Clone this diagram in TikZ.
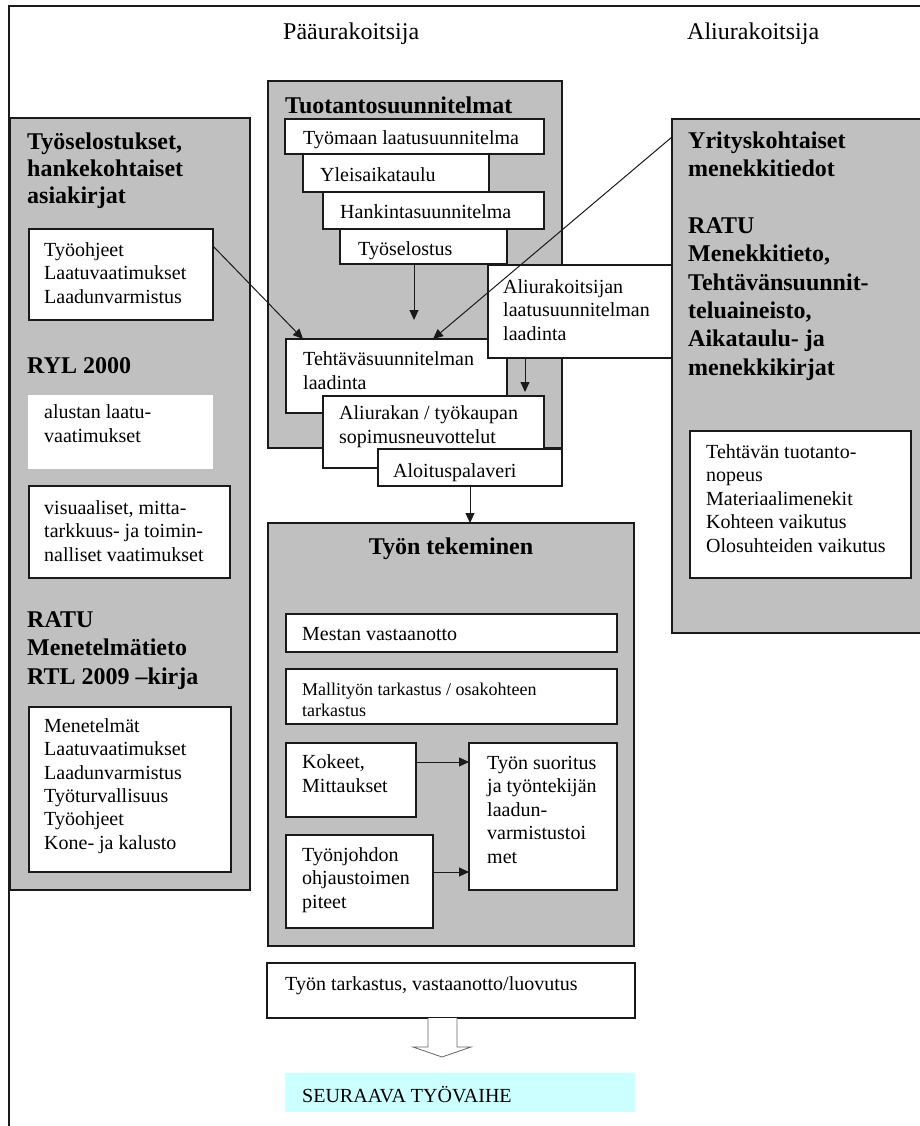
\documentclass[tikz,border=0pt]{standalone}
\usepackage{fontspec}
\setmainfont{Liberation Serif}
\usetikzlibrary{arrows.meta,calc}
\definecolor{panelgray}{HTML}{C0C0C0}
\definecolor{nextcyan}{HTML}{CCFFFF}
\definecolor{inkline}{HTML}{1A1A1A}

% Multi-line text nodes are placed by the baseline of their last line.
\tikzset{
  panel/.style={draw=inkline, fill=panelgray, line width=1.4pt, anchor=north west, inner sep=0pt, outer sep=0pt},
  wbox/.style={draw=inkline, fill=white, line width=1.2pt, anchor=north west, inner sep=0pt, outer sep=0pt},
  plainbox/.style={fill=white, anchor=north west, inner sep=0pt, outer sep=0pt},
  txt/.style={anchor=base west, inner sep=0pt, align=left, font=\fontsize{20}{23.5}\selectfont},
  headtxt/.style={anchor=base west, inner sep=0pt, font=\fontsize{24}{28}\selectfont},
  smalltxt/.style={anchor=base west, inner sep=0pt, align=left, font=\fontsize{18}{21}\selectfont},
  ttl/.style={anchor=base west, inner sep=0pt, align=left, font=\fontsize{24}{28}\selectfont\bfseries},
  flow/.style={draw=inkline, line width=1pt, -{Triangle[length=10pt,width=9pt]}},
}

\begin{document}
\begin{tikzpicture}[x=1pt,y=-1pt]
\useasboundingbox (0,0) rectangle (920,1126);
\fill[white] (0,0) rectangle (920,1126);

% outer frame (only the top and left sides lie on the page)
\draw[inkline, line width=1.2pt] (9,1140) -- (9,6) -- (940,6);

% column headings
\node[headtxt] (hmain) at (283,40) {Pääurakoitsija};
\node[headtxt] (hsub) at (687,40) {Aliurakoitsija};

% ---------- left column: documents ----------
\node[panel, minimum width=240pt, minimum height=772pt] (lpanel) at (10,118) {};
\node[ttl, font=\fontsize{24}{27}\selectfont\bfseries] (ltitle) at (27,204) {Työselostukset,\\hankekohtaiset\\asiakirjat};
\node[wbox, minimum width=184pt, minimum height=91pt] (tyoohj) at (29,229) {};
\node[txt] (tyoohjt) at (44,303) {Työohjeet\\Laatuvaatimukset\\Laadunvarmistus};
\node[ttl] (ryl) at (27,373) {RYL 2000};
\node[plainbox, minimum width=185pt, minimum height=74pt] (alustan) at (28,395) {};
\node[txt] (alustant) at (44,442) {alustan laatu-\\vaatimukset};
\node[wbox, minimum width=201pt, minimum height=92pt] (visu) at (29,486) {};
\node[txt] (visut) at (44,561) {visuaaliset, mitta-\\tarkkuus- ja toimin-\\nalliset vaatimukset};
\node[ttl, font=\fontsize{24}{28.5}\selectfont\bfseries] (ratul) at (27,684) {RATU\\Menetelmätieto\\RTL 2009 –kirja};
\node[wbox, minimum width=202pt, minimum height=165pt] (menet) at (29,707) {};
\node[txt, font=\fontsize{20}{23.3}\selectfont] (menett) at (44,849) {Menetelmät\\Laatuvaatimukset\\Laadunvarmistus\\Työturvallisuus\\Työohjeet\\Kone- ja kalusto};

% ---------- centre column: production planning ----------
\node[panel, minimum width=294pt, minimum height=367pt] (tuot) at (268,81) {};
\node[ttl] (tuott) at (285,114) {Tuotantosuunnitelmat};
\node[wbox, minimum width=259pt, minimum height=35pt] (tyomaan) at (285,119) {};
\node[txt] (tyomaant) at (303,145) {Työmaan laatusuunnitelma};
\node[wbox, minimum width=186pt, minimum height=38pt] (yleis) at (303,154) {};
\node[txt] (yleist) at (320,182) {Yleisaikataulu};
\node[wbox, minimum width=221pt, minimum height=37pt] (hank) at (323,192) {};
\node[txt] (hankt) at (340,218) {Hankintasuunnitelma};
\node[wbox, minimum width=167pt, minimum height=35pt] (tyosel) at (340,229) {};
\node[txt] (tyoselt) at (358,255) {Työselostus};

\node[wbox, minimum width=221pt, minimum height=74pt] (tehtava) at (286,339) {};
\node[txt] (tehtavat) at (303,389) {Tehtäväsuunnitelman\\laadinta};
\node[wbox, minimum width=184pt, minimum height=93pt] (aliur) at (488,265) {};
\node[txt] (aliurt) at (503,340) {Aliurakoitsijan\\laatusuunnitelman\\laadinta};
\node[wbox, minimum width=221pt, minimum height=72pt] (aliurakan) at (323,396) {};
\node[txt] (aliurakant) at (339,443) {Aliurakan / työkaupan\\sopimusneuvottelut};
\node[wbox, minimum width=184pt, minimum height=37pt] (aloitus) at (378,449) {};
\node[txt] (aloitust) at (393,477) {Aloituspalaveri};

% ---------- right column: subcontractor data ----------
\node[panel, minimum width=270pt, minimum height=514pt] (rpanel) at (672,119) {};
\node[ttl, font=\fontsize{24}{28.3}\selectfont\bfseries] (rtitle) at (688,375) {Yrityskohtaiset\\menekkitiedot\\[28.3pt]RATU\\Menekkitieto,\\Tehtävänsuunnit-\\teluaineisto,\\Aikataulu- ja\\menekkikirjat};
\node[wbox, minimum width=221pt, minimum height=147pt] (rinner) at (690,431) {};
\node[txt] (rinnert) at (706,552) {Tehtävän tuotanto-\\nopeus\\Materiaalimenekit\\Kohteen vaikutus\\Olosuhteiden vaikutus};

% ---------- centre column: doing the work ----------
\node[panel, minimum width=366pt, minimum height=423pt] (tekem) at (268,523) {};
\node[ttl, anchor=base] (tekemt) at (451,554) {Työn tekeminen};
\node[wbox, minimum width=331pt, minimum height=38pt] (mestan) at (286,614) {};
\node[txt] (mestant) at (302,640) {Mestan vastaanotto};
\node[wbox, minimum width=331pt, minimum height=55pt] (malli) at (286,669) {};
\node[smalltxt] (mallit) at (302,716) {Mallityön tarkastus / osakohteen\\tarkastus};
\node[wbox, minimum width=130pt, minimum height=74pt] (kokeet) at (286,743) {};
\node[txt] (kokeett) at (302,792) {Kokeet,\\Mittaukset};
\node[wbox, minimum width=148pt, minimum height=147pt] (suoritus) at (469,743) {};
\node[txt] (suoritust) at (487,863) {Työn suoritus\\ja työntekijän\\laadun-\\varmistustoi\\met};
\node[wbox, minimum width=147pt, minimum height=93pt] (johdon) at (286,835) {};
\node[txt] (johdont) at (302,908) {Työnjohdon\\ohjaustoimen\\piteet};

% ---------- hand-over and next phase ----------
\node[wbox, minimum width=368pt, minimum height=55pt] (tarkastus) at (267,963) {};
\node[txt] (tarkastust) at (285,990) {Työn tarkastus, vastaanotto/luovutus};
\node[plainbox, fill=nextcyan, minimum width=350pt, minimum height=39pt] (seuraava) at (285,1073) {};
\node[txt] (seuraavat) at (302,1102) {SEURAAVA TYÖVAIHE};

% hollow block arrow below the hand-over box
\draw[draw=black!60, fill=white, line width=0.8pt]
  ($(tarkastus.south west)+(161,0)$) -- ++(0,29) -- ++(-15,0) -- ++(29,10)
  -- ++(29,-10) -- ++(-14,0) -- ++(0,-29);

% ---------- connectors ----------
\coordinate (cA) at ($(tyoohj.north east)+(0,17)$);
\coordinate (cB) at ($(tehtava.north west)+(17,0)$);
\draw[flow] (cA) -- (cB);
\coordinate (cC) at ($(rpanel.north west)+(0,18)$);
\coordinate (cD) at ($(tehtava.north west)+(147,0)$);
\draw[flow] (cC) -- (cD);
\coordinate (cE) at ($(tyosel.south west)+(74,0)$);
\coordinate (cF) at ($(cE)+(0,56)$);
\draw[flow] (cE) -- (cF);
\coordinate (cG) at ($(aliur.south west)+(37,0)$);
\coordinate (cH) at ($(cG)+(0,34)$);
\draw[flow] (cG) -- (cH);
\coordinate (cI) at ($(tekem.north west)+(202,0)$);
\draw[flow] (aloitus.south -| cI) -- (cI);
\coordinate (cJ) at ($(kokeet.north east)+(0,19)$);
\draw[flow] (cJ) -- (cJ -| suoritus.west);
\coordinate (cK) at ($(johdon.north east)+(0,37)$);
\draw[flow] (cK) -- (cK -| suoritus.west);
\end{tikzpicture}
\end{document}
